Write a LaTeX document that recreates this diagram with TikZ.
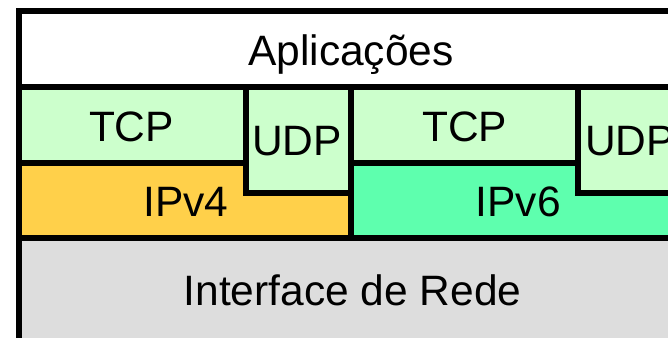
\documentclass[tikz,border=0pt]{standalone}
\usepackage{fontspec}
\setmainfont{Liberation Sans}
\definecolor{appwhite}{HTML}{FFFFFF}
\definecolor{transgreen}{HTML}{CCFFCC}
\definecolor{ipvfour}{HTML}{FFD04A}
\definecolor{ipvsix}{HTML}{5EFFAE}
\definecolor{netgrey}{HTML}{DDDDDD}
\tikzset{
  layer/.style={draw=black, line width=6pt, line join=miter},
  lbl/.style={inner sep=0pt, anchor=base, font=\fontsize{42.5}{50}\selectfont}
}
\begin{document}
\begin{tikzpicture}[x=1pt, y=-1pt]
  \useasboundingbox (0,0) rectangle (668,337);
  % protocol layers
  \path[layer, fill=appwhite] (18.5,11) rectangle (685,86.5);
  \path[layer, fill=netgrey] (18.5,238) rectangle (685,345);
  \path[layer, fill=ipvfour] (18.5,162.5) -- (246,162.5) -- (246,193) -- (351,193)
        -- (351,238) -- (18.5,238) -- cycle;
  \path[layer, fill=ipvsix] (351,162.5) -- (578,162.5) -- (578,193) -- (685,193)
        -- (685,238) -- (351,238) -- cycle;
  \path[layer, fill=transgreen] (18.5,86.5) rectangle (246,162.5);
  \path[layer, fill=transgreen] (246,86.5) rectangle (351,193);
  \path[layer, fill=transgreen] (351,86.5) rectangle (578,162.5);
  \path[layer, fill=transgreen] (578,86.5) rectangle (685,193);
  % labels
  \node[lbl] (app) at (351,65) {Aplicações};
  \node[lbl] (tcpa) at (131.5,141.7) {TCP};
  \node[lbl] (udpa) at (297,155) {UDP};
  \node[lbl] (ipa) at (186,216.7) {IPv4};
  \node[lbl] (tcpb) at (464.7,141.7) {TCP};
  \node[lbl] (ipb) at (518.3,216.7) {IPv6};
  \node[lbl] (udpb) at (630,155) {UDP};
  \node[lbl] (net) at (352.5,305) {Interface de Rede};
\end{tikzpicture}
\end{document}
